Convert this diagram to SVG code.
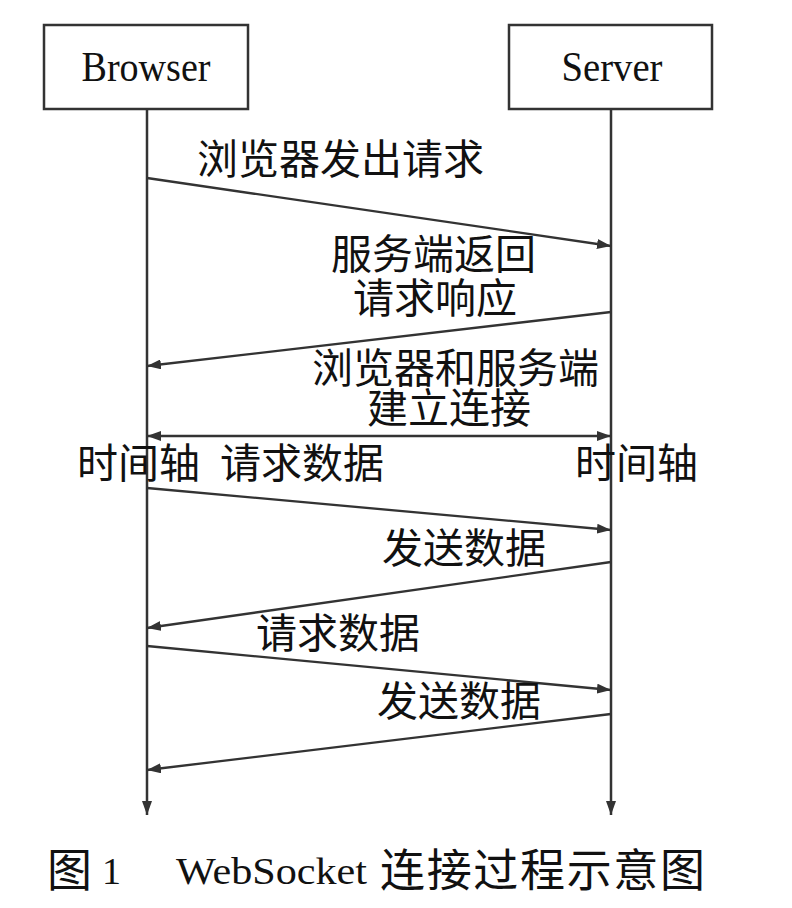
<svg xmlns="http://www.w3.org/2000/svg" width="792" height="908" viewBox="0 0 792 908">
<style>
.box{fill:#fff;stroke:#333;stroke-width:2.5}
.life{stroke:#333;stroke-width:2.5;fill:none}
.msg{stroke:#333;stroke-width:2.3;fill:none}
.lat{font-family:"Liberation Serif",serif;fill:#111}
.cjk{font-family:"Noto Sans CJK SC","Noto Sans CJK JP",sans-serif;font-size:41px;fill:#111}
.cap{font-family:"Noto Sans CJK SC","Noto Sans CJK JP",sans-serif;font-size:45px;fill:#111}
</style>
<defs>
<marker id="ah" viewBox="0 0 14 10" refX="14" refY="5" markerWidth="14" markerHeight="10" markerUnits="userSpaceOnUse" orient="auto-start-reverse">
<path d="M0,0 L14,5 L0,10 z" fill="#333"/>
</marker>
</defs>
<rect width="792" height="908" fill="#fff"/>
<g id="browser">
<rect class="box" x="44" y="25" width="204" height="84"/>
<text class="lat" x="146" y="81" font-size="42" text-anchor="middle" textLength="129" lengthAdjust="spacingAndGlyphs">Browser</text>
</g>
<g id="server">
<rect class="box" x="509" y="25" width="203" height="84"/>
<text class="lat" x="612" y="81" font-size="42" text-anchor="middle" textLength="101" lengthAdjust="spacingAndGlyphs">Server</text>
</g>
<g id="connectors">
<line class="life" x1="147" y1="109" x2="147" y2="815" marker-end="url(#ah)"/>
<line class="life" x1="611" y1="109" x2="611" y2="815" marker-end="url(#ah)"/>
<line class="msg" x1="147" y1="178" x2="611" y2="246" marker-end="url(#ah)"/>
<line class="msg" x1="611" y1="312" x2="147" y2="366" marker-end="url(#ah)"/>
<line class="msg" x1="147" y1="436" x2="611" y2="436" marker-start="url(#ah)" marker-end="url(#ah)"/>
<line class="msg" x1="147" y1="488" x2="611" y2="530" marker-end="url(#ah)"/>
<line class="msg" x1="611" y1="562" x2="147" y2="628" marker-end="url(#ah)"/>
<line class="msg" x1="147" y1="646" x2="611" y2="690" marker-end="url(#ah)"/>
<line class="msg" x1="611" y1="714" x2="147" y2="770" marker-end="url(#ah)"/>
</g>
<g id="labels">
<text class="cjk" x="197" y="174">浏览器发出请求</text>
<text class="cjk" x="331" y="269">服务端返回</text>
<text class="cjk" x="353" y="313">请求响应</text>
<text class="cjk" x="312" y="383">浏览器和服务端</text>
<text class="cjk" x="367" y="423">建立连接</text>
<text class="cjk" x="77" y="478">时间轴</text>
<text class="cjk" x="220" y="478">请求数据</text>
<text class="cjk" x="575" y="478">时间轴</text>
<text class="cjk" x="382" y="563">发送数据</text>
<text class="cjk" x="256" y="648">请求数据</text>
<text class="cjk" x="377" y="716">发送数据</text>
</g>
<g id="caption">
<text class="cap" x="47" y="887">图</text>
<text class="lat" x="102" y="884" font-size="38">1</text>
<text class="lat" x="176" y="884" font-size="37" textLength="191" lengthAdjust="spacingAndGlyphs">WebSocket</text>
<text class="cap" x="380" y="887" textLength="325" lengthAdjust="spacing">连接过程示意图</text>
</g>
</svg>
